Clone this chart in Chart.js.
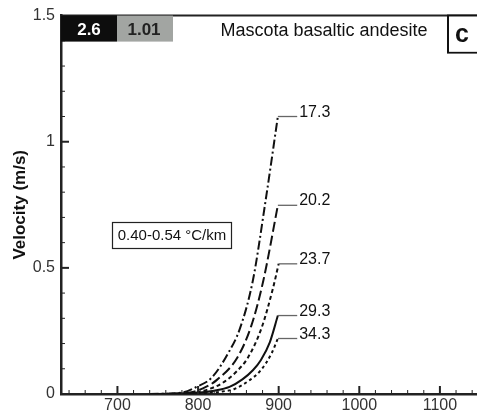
<!DOCTYPE html>
<html>
<head>
<meta charset="utf-8">
<script src="https://cdn.jsdelivr.net/npm/chart.js@4.4.0/dist/chart.umd.min.js"></script>
<style>
  html, body { margin: 0; padding: 0; background: #fff; overflow: hidden; }
  #wrap { width: 477px; height: 414px; }
</style>
</head>
<body>
<div id="wrap"><canvas id="myChart" width="477" height="414"></canvas></div>
<script>
// curve labels (geothermal gradient, deg C/km)
const curveLabels = ['17.3', '20.2', '23.7', '29.3', '34.3'];

// temperature (x) and velocity (y)
const temp173 = [740, 780, 798, 817, 837, 852, 868, 883, 899];
const vel173  = [0, 0.006, 0.028, 0.065, 0.16, 0.26, 0.45, 0.75, 1.10];
const temp202 = [750, 790, 806, 823, 849, 866, 881, 899];
const vel202  = [0, 0.006, 0.022, 0.055, 0.146, 0.27, 0.45, 0.748];
const temp237 = [755, 795, 812, 830, 848, 862, 879, 893, 900];
const vel237  = [0, 0.005, 0.018, 0.043, 0.09, 0.145, 0.264, 0.42, 0.516];
const temp293 = [760, 800, 820, 839, 855, 868, 878, 889, 899];
const vel293  = [0, 0.005, 0.013, 0.028, 0.058, 0.094, 0.135, 0.205, 0.311];
const temp343 = [770, 810, 830, 845, 864, 878, 891, 899];
const vel343  = [0, 0.004, 0.01, 0.02, 0.055, 0.095, 0.16, 0.22];

const xTickVals = [700, 800, 900, 1000, 1100];
const yTickVals = [0, 0.5, 1, 1.5];

const headerDark = '2.6';
const headerGray = '1.01';
const titleText = 'Mascota basaltic andesite';
const panelLetter = 'c';
const gradientNote = '0.40-0.54 °C/km';

const allTemps = [temp173, temp202, temp237, temp293, temp343];
const allVels = [vel173, vel202, vel237, vel293, vel343];
const dashes = [[9, 3, 2, 3], [10, 4], [4, 3], [], [3, 3]];
const fontFam = '"Liberation Sans", Arial, sans-serif';

function pts(xs, ys) {
  return xs.map((x, i) => ({x: x, y: ys[i]}));
}

const datasets = allTemps.map((t, i) => ({
  label: curveLabels[i],
  data: pts(t, allVels[i]),
  borderColor: '#111',
  borderWidth: 2,
  borderDash: dashes[i],
  pointRadius: 0,
  showLine: true,
  fill: false,
  cubicInterpolationMode: 'monotone'
}));

const decor = {
  id: 'decor',
  afterDraw(chart) {
    const ctx = chart.ctx;
    const xs = chart.scales.x, ys = chart.scales.y;
    const a = chart.chartArea;
    ctx.save();

    // inward ticks
    ctx.strokeStyle = '#222';
    for (let v = 640; v <= 1140; v += 20) {
      const px = xs.getPixelForValue(v);
      const len = v % 100 === 0 ? 8 : 4;
      ctx.lineWidth = v % 100 === 0 ? 2 : 1;
      ctx.beginPath(); ctx.moveTo(px, a.bottom); ctx.lineTo(px, a.bottom - len); ctx.stroke();
    }
    for (let k = 1; k < 15; k++) {
      const py = ys.getPixelForValue(k / 10);
      const len = k % 5 === 0 ? 8 : 4;
      ctx.lineWidth = k % 5 === 0 ? 2 : 1;
      ctx.beginPath(); ctx.moveTo(a.left, py); ctx.lineTo(a.left + len, py); ctx.stroke();
    }

    // top frame line
    ctx.lineWidth = 2;
    ctx.beginPath(); ctx.moveTo(a.left, a.top); ctx.lineTo(a.right + 2, a.top); ctx.stroke();

    // header boxes
    ctx.fillStyle = '#0d0d0d';
    ctx.fillRect(a.left, a.top, 56, 26);
    ctx.fillStyle = '#a2a5a2';
    ctx.fillRect(a.left + 56, a.top, 56, 26);
    ctx.font = 'bold 17px ' + fontFam;
    ctx.textAlign = 'center';
    ctx.textBaseline = 'alphabetic';
    ctx.fillStyle = '#fff';
    ctx.fillText(headerDark, a.left + 28, a.top + 19);
    ctx.fillStyle = '#222';
    ctx.fillText(headerGray, a.left + 83, a.top + 19);
    ctx.font = '18px ' + fontFam;
    ctx.fillStyle = '#111';
    ctx.fillText(titleText, 324, a.top + 20);

    // panel letter box
    ctx.strokeStyle = '#111';
    ctx.lineWidth = 2;
    ctx.strokeRect(448, a.top, 40, 37);
    ctx.fillStyle = '#fff';
    ctx.fillRect(449, a.top + 1, 38, 35);
    ctx.fillStyle = '#111';
    ctx.font = 'bold 25px ' + fontFam;
    ctx.fillText(panelLetter, 462, a.top + 26);

    // gradient note box
    ctx.strokeStyle = '#222';
    ctx.lineWidth = 1.2;
    ctx.strokeRect(112.5, 222.5, 119, 26);
    ctx.font = '15px ' + fontFam;
    ctx.fillStyle = '#111';
    ctx.textBaseline = 'middle';
    ctx.fillText(gradientNote, 172, 236);

    // leader lines and curve labels
    ctx.textAlign = 'left';
    ctx.textBaseline = 'alphabetic';
    ctx.font = '16px ' + fontFam;
    allVels.forEach((vals, i) => {
      const t = allTemps[i];
      const x0 = xs.getPixelForValue(t[t.length - 1]);
      const y0 = ys.getPixelForValue(vals[vals.length - 1]);
      const x1 = xs.getPixelForValue(923);
      ctx.strokeStyle = '#666';
      ctx.lineWidth = 1.3;
      ctx.beginPath(); ctx.moveTo(x0, y0); ctx.lineTo(x1, y0); ctx.stroke();
      ctx.fillStyle = '#111';
      ctx.fillText(curveLabels[i], x1 + 2, y0);
    });
    ctx.restore();
  }
};

const myc = document.getElementById('myChart').getContext('2d');
const myChart = new Chart(myc, {
  type: 'scatter',
  data: { datasets: datasets },
  options: {
    responsive: false,
    animation: false,
    maintainAspectRatio: false,
    layout: { padding: { top: 13, right: 0, left: 0, bottom: 0 } },
    plugins: { legend: { display: false }, tooltip: { enabled: false } },
    scales: {
      x: {
        type: 'linear',
        min: 630,
        max: 1146,
        afterFit: s => { s.height = 20; },
        afterBuildTicks: s => { s.ticks = xTickVals.map(v => ({value: v})); },
        grid: { display: false, drawTicks: false },
        border: { display: true, color: '#222', width: 2.5 },
        ticks: { color: '#333', padding: 2, callback: v => String(v), font: { size: 16, family: fontFam } }
      },
      y: {
        type: 'linear',
        min: 0,
        max: 1.5,
        afterFit: s => { s.width = 61; },
        afterBuildTicks: s => { s.ticks = yTickVals.map(v => ({value: v})); },
        grid: { display: false, drawTicks: false },
        border: { display: true, color: '#222', width: 2.5 },
        ticks: { color: '#333', padding: 6, callback: v => String(v), font: { size: 16, family: fontFam } },
        title: {
          display: true,
          text: 'Velocity (m/s)',
          color: '#111',
          padding: { top: 10, bottom: 0 },
          font: { size: 17, weight: 'bold', family: fontFam }
        }
      }
    }
  },
  plugins: [decor]
});
</script>
</body>
</html>
